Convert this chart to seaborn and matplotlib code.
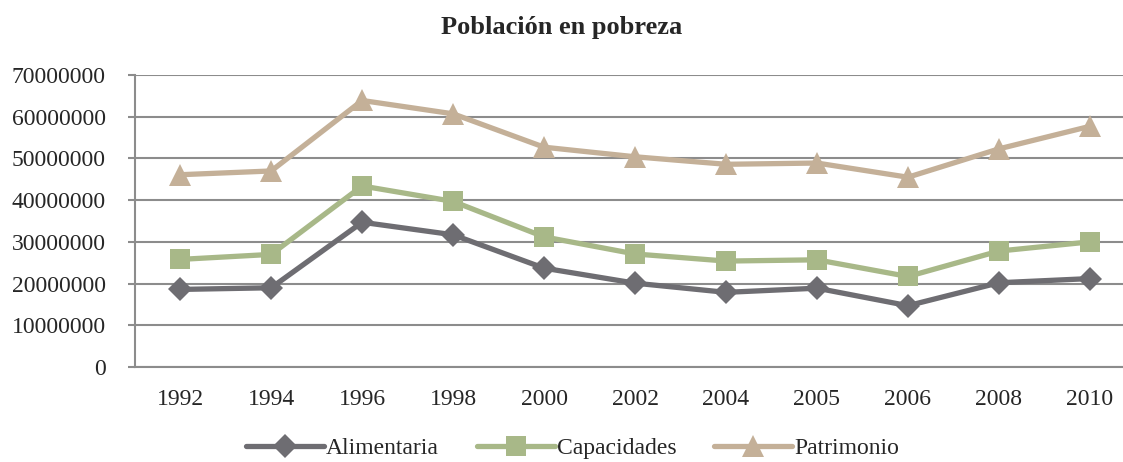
import matplotlib
matplotlib.use("Agg")
from matplotlib import pyplot as plt
import numpy as np
import pandas as pd
import seaborn as sns

years = ["1992", "1994", "1996", "1998", "2000", "2002", "2004", "2005", "2006", "2008", "2010"]
alimentaria = [18.6, 19.0, 34.7, 31.7, 23.7, 20.1, 17.9, 18.9, 14.7, 20.2, 21.2]
capacidades = [25.8, 27.0, 43.4, 39.7, 31.2, 27.1, 25.4, 25.7, 21.7, 27.8, 30.0]
patrimonio = [46.1, 47.0, 63.9, 60.7, 52.7, 50.4, 48.6, 48.9, 45.5, 52.3, 57.7]
series_names = ["Alimentaria", "Capacidades", "Patrimonio"]

rows = []
for name, vals in zip(series_names, [alimentaria, capacidades, patrimonio]):
    for i, v in enumerate(vals):
        rows.append({"pos": i, "year": years[i], "value": v * 1e6, "serie": name})
df = pd.DataFrame(rows)

sns.set_style("white")
plt.rcParams['font.family'] = ['Liberation Serif', 'DejaVu Serif']

colors = {"Alimentaria": "#6e6d72", "Capacidades": "#a8b888", "Patrimonio": "#c4b098"}
markers = {"Alimentaria": "D", "Capacidades": "s", "Patrimonio": "^"}
msize = {"Alimentaria": 12, "Capacidades": 14.5, "Patrimonio": 16}

fig = plt.figure(figsize=(11.23, 4.62), dpi=100)
ax = fig.add_axes([0.120, 0.2056, 0.891, 0.632])

for name in series_names:
    sub = df[df["serie"] == name]
    sns.lineplot(data=sub, x="pos", y="value", ax=ax, color=colors[name],
                 marker=markers[name], markersize=msize[name], markeredgewidth=0,
                 linewidth=3.8, label=name, sort=False)

ax.set_xlim(-0.5, len(years) - 0.5)
ax.set_ylim(0, 70000000)
ax.set_yticks(np.arange(0, 70000001, 10000000))
ax.set_yticklabels([str(int(t)) for t in np.arange(0, 70000001, 10000000)])
ax.set_xticks(range(len(years)))
ax.set_xticklabels(years)
ax.yaxis.grid(True, color="#8c8c8c", linewidth=1.5)
ax.set_axisbelow(True)
ax.set_xlabel("")
ax.set_ylabel("")
for s in ["top", "right"]:
    ax.spines[s].set_visible(False)
for s in ["left", "bottom"]:
    ax.spines[s].set_color("#8c8c8c")
    ax.spines[s].set_linewidth(1.5)
ax.tick_params(axis="y", length=5, color="#8c8c8c", width=1.5, labelsize=17, pad=16, left=True)
ax.tick_params(axis="x", length=0, labelsize=17, pad=16)

fig.text(0.5, 0.94, "Población en pobreza", ha="center", va="center",
         fontsize=19, fontweight="bold")

ax.get_legend().remove()
handles, labels = ax.get_legend_handles_labels()
fig.legend(handles, labels, loc="center", bbox_to_anchor=(0.51, 0.03), ncol=3,
           frameon=False, fontsize=17, handlelength=3.3, handletextpad=0.1,
           columnspacing=1.6)

fig.savefig("out.png", dpi=100)
